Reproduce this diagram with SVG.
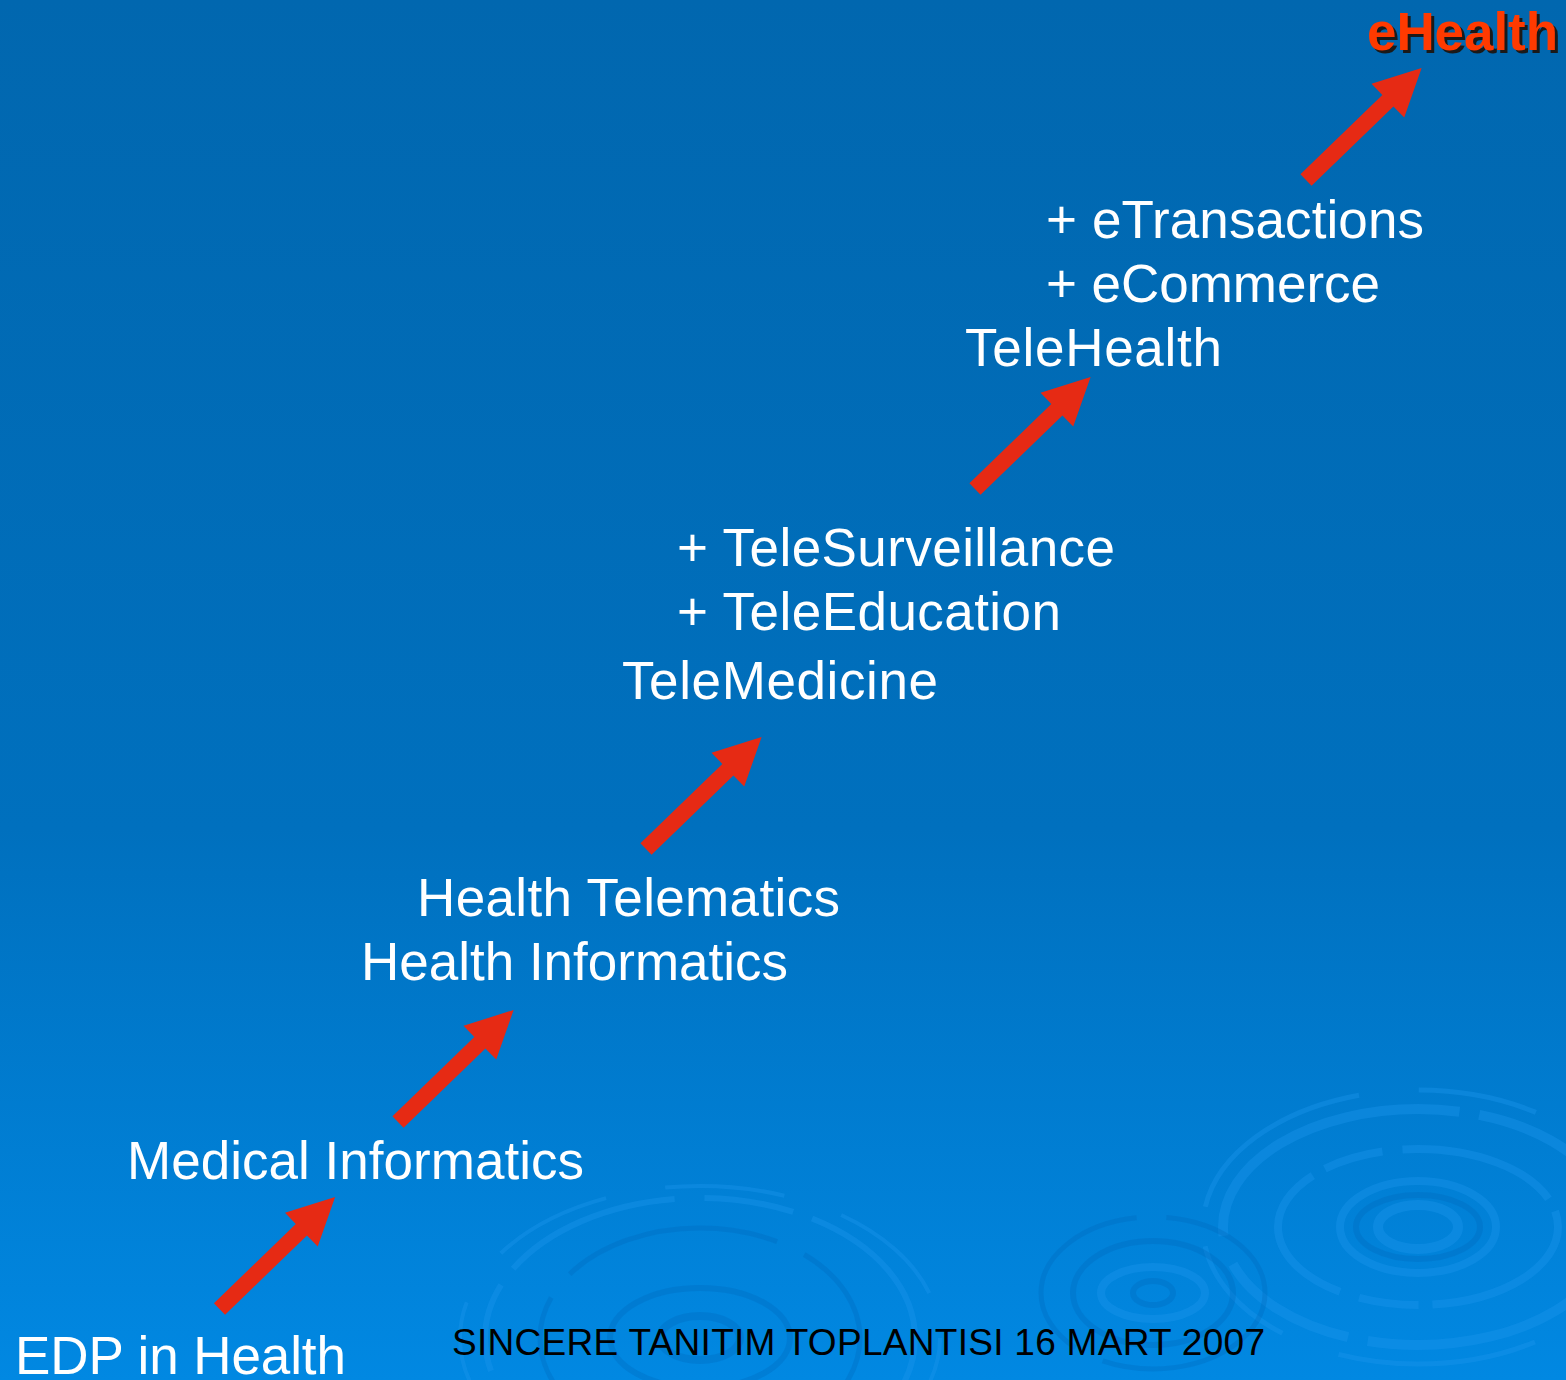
<svg xmlns="http://www.w3.org/2000/svg" width="1566" height="1380" viewBox="0 0 1566 1380">
<style>
.t{font-family:"Liberation Sans",Arial,sans-serif;font-size:53px;fill:#ffffff}
.foot{font-family:"Liberation Sans",Arial,sans-serif;font-size:37px;fill:#000000}
.eh{font-family:"Liberation Sans",Arial,sans-serif;font-size:53px;font-weight:bold}
.arr{fill:#E62A14}
.rl{fill:none;stroke:#1E96EC;stroke-opacity:0.38}
.rd{fill:none;stroke:#0066B8;stroke-opacity:0.3}
</style>
<defs>
<linearGradient id="bg" x1="0" y1="0" x2="0" y2="1">
<stop offset="0" stop-color="#0167AF"/>
<stop offset="0.6" stop-color="#0070BE"/>
<stop offset="1" stop-color="#0188E2"/>
</linearGradient>
<polygon id="arrow" points="0,-8 114,-8 114,-23.5 161,0 114,23.5 114,8 0,8"/>
</defs>
<rect width="1566" height="1380" fill="url(#bg)"/>
<g id="ripples">
<g transform="translate(1418,1227)">
<ellipse class="rl" rx="40" ry="22" stroke-width="10"/>
<ellipse class="rd" rx="62" ry="32" stroke-width="6"/>
<ellipse class="rl" rx="78" ry="46" stroke-width="8"/>
<ellipse class="rl" rx="140" ry="78" stroke-width="8" stroke-dasharray="160 14 60 20"/>
<ellipse class="rl" rx="195" ry="118" stroke-width="10" stroke-dasharray="300 20 140 30"/>
<ellipse class="rl" rx="215" ry="137" stroke-width="5" stroke-dasharray="120 40 200 60"/>
</g>
<g transform="translate(1153,1293)">
<ellipse class="rd" rx="20" ry="12" stroke-width="6"/>
<ellipse class="rl" rx="52" ry="26" stroke-width="8"/>
<ellipse class="rd" rx="80" ry="52" stroke-width="6"/>
<ellipse class="rd" rx="112" ry="76" stroke-width="5" stroke-dasharray="200 30"/>
</g>
<g transform="translate(700,1338)">
<ellipse class="rd" rx="40" ry="22" stroke-width="8"/>
<ellipse class="rd" rx="90" ry="50" stroke-width="6"/>
<ellipse class="rd" rx="160" ry="110" stroke-width="5" stroke-dasharray="220 30"/>
<ellipse class="rl" rx="215" ry="140" stroke-width="6" stroke-dasharray="180 30 90 20"/>
<ellipse class="rl" rx="240" ry="152" stroke-width="4" stroke-dasharray="120 60"/>
</g>
</g>
<g id="connectors">
<use href="#arrow" class="arr" transform="translate(219.5,1309) rotate(-44.1)"/>
<use href="#arrow" class="arr" transform="translate(398,1122) rotate(-44.1)"/>
<use href="#arrow" class="arr" transform="translate(646,849) rotate(-44.1)"/>
<use href="#arrow" class="arr" transform="translate(975,489) rotate(-44.1)"/>
<use href="#arrow" class="arr" transform="translate(1306,180) rotate(-44.1)"/>
</g>
<g id="node-edp"><text class="t" x="15" y="1374" textLength="331" lengthAdjust="spacing">EDP in Health</text></g>
<g id="node-medical"><text class="t" x="127" y="1179" textLength="457" lengthAdjust="spacing">Medical Informatics</text></g>
<g id="node-health">
<text class="t" x="417" y="916" textLength="423" lengthAdjust="spacing">Health Telematics</text>
<text class="t" x="361" y="980" textLength="427" lengthAdjust="spacing">Health Informatics</text>
</g>
<g id="node-telemedicine">
<text class="t" x="677" y="566" textLength="438" lengthAdjust="spacing">+ TeleSurveillance</text>
<text class="t" x="677" y="630" textLength="384" lengthAdjust="spacing">+ TeleEducation</text>
<text class="t" x="622" y="699" textLength="316" lengthAdjust="spacing">TeleMedicine</text>
</g>
<g id="node-telehealth">
<text class="t" x="1046" y="238" textLength="378" lengthAdjust="spacing">+ eTransactions</text>
<text class="t" x="1046" y="302" textLength="334" lengthAdjust="spacing">+ eCommerce</text>
<text class="t" x="965" y="366" textLength="257" lengthAdjust="spacing">TeleHealth</text>
</g>
<g id="node-ehealth">
<text class="eh" x="1370" y="53" fill="#1a1a1a" textLength="191" lengthAdjust="spacing">eHealth</text>
<text class="eh" x="1367" y="50" fill="#FF3A00" textLength="191" lengthAdjust="spacing">eHealth</text>
</g>
<g id="footer"><text class="foot" x="452" y="1355" textLength="813" lengthAdjust="spacing">SINCERE TANITIM TOPLANTISI 16 MART 2007</text></g>
</svg>
